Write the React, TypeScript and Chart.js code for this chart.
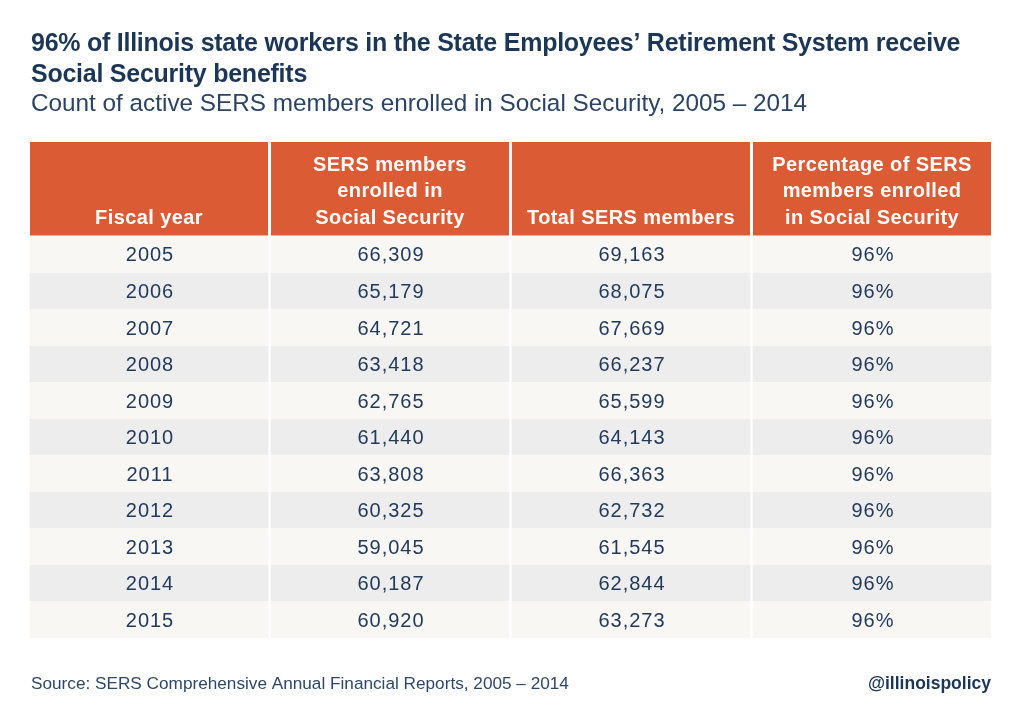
import React, { useEffect, useRef } from 'react';
import { Chart, registerables } from 'chart.js';

Chart.register(...registerables);

const titleLines = [
  '96% of Illinois state workers in the State Employees’ Retirement System receive',
  'Social Security benefits',
];
const subtitle = 'Count of active SERS members enrolled in Social Security, 2005 – 2014';
const sourceNote = 'Source: SERS Comprehensive Annual Financial Reports, 2005 – 2014';
const handle = '@illinoispolicy';

const columnHeaders = [
  ['Fiscal year'],
  ['SERS members', 'enrolled in', 'Social Security'],
  ['Total SERS members'],
  ['Percentage of SERS', 'members enrolled', 'in Social Security'],
];

const fiscalYears = ['2005', '2006', '2007', '2008', '2009', '2010', '2011', '2012', '2013', '2014', '2015'];
const enrolledInSS = [66309, 65179, 64721, 63418, 62765, 61440, 63808, 60325, 59045, 60187, 60920];
const totalMembers = [69163, 68075, 67669, 66237, 65599, 64143, 66363, 62732, 61545, 62844, 63273];
const percentEnrolled = [96, 96, 96, 96, 96, 96, 96, 96, 96, 96, 96];

const FONT = '"Liberation Sans", Arial, sans-serif';
const NAVY = '#1c3656';
const TEXT = '#223b5c';
const ORANGE = '#db5b35';
const ROW_LIGHT = '#f8f7f4';
const ROW_DARK = '#ededee';

const fmt = (n: number) => n.toLocaleString('en-US');

const cellText = (c: number, i: number): string => {
  if (c === 0) return fiscalYears[i];
  if (c === 1) return fmt(enrolledInSS[i]);
  if (c === 2) return fmt(totalMembers[i]);
  return `${percentEnrolled[i]}%`;
};

const tablePlugin = {
  id: 'tablePlugin',
  beforeDatasetsDraw(chart: any) {
    const ctx = chart.ctx;
    const xs = chart.scales.x;
    const area = chart.chartArea;
    ctx.save();
    // titles
    ctx.fillStyle = NAVY;
    ctx.textAlign = 'left';
    ctx.textBaseline = 'alphabetic';
    ctx.font = `bold 25px ${FONT}`;
    (ctx as any).letterSpacing = '-0.25px';
    ctx.fillText(titleLines[0], 31, 51);
    ctx.fillText(titleLines[1], 31, 81.5);
    (ctx as any).letterSpacing = '0px';
    ctx.fillStyle = '#2b4464';
    ctx.font = `24.3px ${FONT}`;
    ctx.fillText(subtitle, 31, 111);
    // footer
    ctx.fillStyle = '#2f4868';
    ctx.font = `17.2px ${FONT}`;
    ctx.fillText(sourceNote, 31, 689);
    ctx.fillStyle = NAVY;
    ctx.font = `bold 17.5px ${FONT}`;
    ctx.textAlign = 'right';
    ctx.fillText(handle, 991, 689);
    // header
    const headTop = area.top - 94;
    for (let c = 0; c < columnHeaders.length; c++) {
      const x0 = xs.getPixelForValue(c) + 1.5;
      const x1 = xs.getPixelForValue(c + 1) - 1.5;
      ctx.fillStyle = ORANGE;
      ctx.fillRect(x0, headTop, x1 - x0, area.top - 0.5 - headTop);
      ctx.fillStyle = '#ffffff';
      ctx.font = `bold 20px ${FONT}`;
      (ctx as any).letterSpacing = '0.4px';
      ctx.textAlign = 'center';
      const lines = columnHeaders[c];
      const cx = (x0 + x1) / 2;
      lines.forEach((ln, k) => {
        const base = area.top - 12 - (lines.length - 1 - k) * 26.7;
        ctx.fillText(ln, cx, base);
      });
      (ctx as any).letterSpacing = '0px';
    }
    ctx.restore();
  },
  afterDatasetsDraw(chart: any) {
    const ctx = chart.ctx;
    const xs = chart.scales.x;
    const ys = chart.scales.y;
    ctx.save();
    ctx.fillStyle = TEXT;
    ctx.font = `20px ${FONT}`;
    (ctx as any).letterSpacing = '1px';
    ctx.textAlign = 'center';
    ctx.textBaseline = 'alphabetic';
    for (let i = 0; i < fiscalYears.length; i++) {
      const cy = ys.getPixelForValue(i);
      for (let c = 0; c < columnHeaders.length; c++) {
        const cx = xs.getPixelForValue(c + 0.5) + 1;
        ctx.fillText(cellText(c, i), cx, cy + 7.2);
      }
    }
    ctx.restore();
  },
};

export default function App() {
  const ref = useRef<HTMLCanvasElement | null>(null);
  useEffect(() => {
    if (!ref.current) return;
    const chart = new Chart(ref.current, {
      type: 'bar',
      data: {
        labels: fiscalYears,
        datasets: columnHeaders.map((_, c) => ({
          label: `col${c}`,
          data: fiscalYears.map(() => [c, c + 1]) as any,
          backgroundColor: fiscalYears.map((_, i) => (i % 2 === 0 ? ROW_LIGHT : ROW_DARK)),
          borderColor: '#ffffff',
          borderWidth: { left: 1.5, right: 1.5, top: 0, bottom: 0 },
          borderSkipped: false,
          grouped: false,
          barPercentage: 1,
          categoryPercentage: 1,
        })),
      },
      options: {
        indexAxis: 'y',
        responsive: false,
        animation: false,
        layout: { padding: { left: 28.5, right: 31.5, top: 236, bottom: 81 } },
        scales: {
          x: { type: 'linear', min: 0, max: 4, display: false },
          y: { type: 'category', display: false, offset: true },
        },
        plugins: { legend: { display: false }, tooltip: { enabled: false }, title: { display: false } },
      },
      plugins: [tablePlugin],
    } as any);
    return () => chart.destroy();
  }, []);
  return (
    <div style={{ position: 'fixed', left: 0, top: 0, width: 1024, height: 719, background: '#ffffff' }}>
      <canvas ref={ref} width={1024} height={719} style={{ display: 'block' }} />
    </div>
  );
}
